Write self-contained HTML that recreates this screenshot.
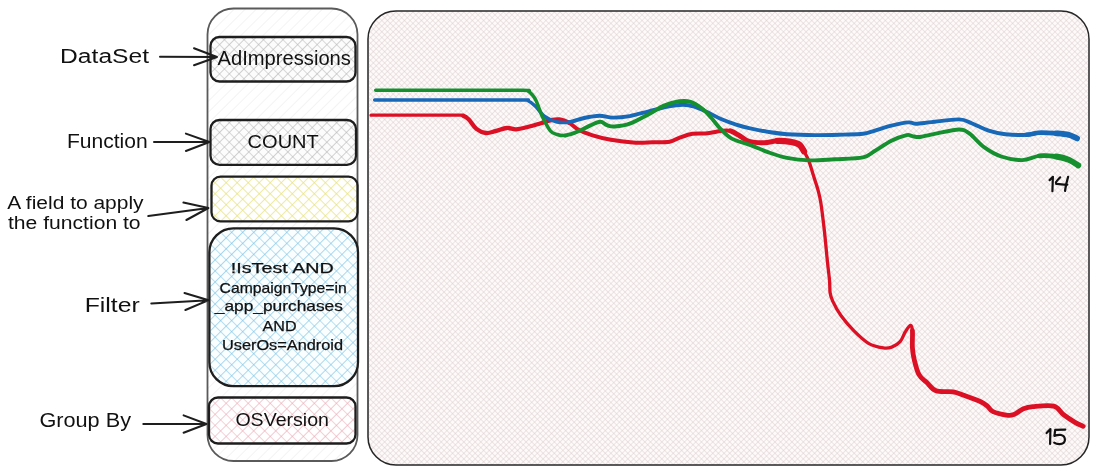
<!DOCTYPE html>
<html><head><meta charset="utf-8"><style>
html,body{margin:0;padding:0;background:#fff;width:1098px;height:474px;overflow:hidden}
svg{display:block;will-change:transform}
text{font-family:"Liberation Sans",sans-serif;fill:#111}
</style></head><body>
<svg width="1098" height="474" viewBox="0 0 1098 474">
<defs>
<pattern id="hOuter" width="7.8" height="7.8" patternUnits="userSpaceOnUse" patternTransform="rotate(45)">
<rect width="7.8" height="7.8" fill="#fff"/><line x1="0" y1="0" x2="0" y2="7.8" stroke="#ebebeb" stroke-width="1.1"/></pattern>
<pattern id="hGray" width="6.9" height="6.9" patternUnits="userSpaceOnUse" patternTransform="rotate(45)">
<rect width="6.9" height="6.9" fill="#fcfcfc"/><path d="M0,0 V6.9 M0,0 H6.9" stroke="#b4b4b4" stroke-width="1.2"/></pattern>
<pattern id="hYellow" width="7.8" height="7.8" patternUnits="userSpaceOnUse" patternTransform="rotate(45)">
<rect width="7.8" height="7.8" fill="#fff"/><path d="M0,0 V7.8 M0,0 H7.8" stroke="#e6e27c" stroke-width="1.3"/></pattern>
<pattern id="hBlue" width="7.8" height="7.8" patternUnits="userSpaceOnUse" patternTransform="rotate(45)">
<rect width="7.8" height="7.8" fill="#fbfeff"/><path d="M0,0 V7.8 M0,0 H7.8" stroke="#74c0e4" stroke-width="1.2"/></pattern>
<pattern id="hPink" width="7.8" height="7.8" patternUnits="userSpaceOnUse" patternTransform="rotate(45)">
<rect width="7.8" height="7.8" fill="#fff"/><path d="M0,0 V7.8 M0,0 H7.8" stroke="#eaa6b2" stroke-width="1.2"/></pattern>
<pattern id="hChart" width="4" height="4" patternUnits="userSpaceOnUse" patternTransform="rotate(45)">
<rect width="4" height="4" fill="#fffafa"/><path d="M0,0 V4 M0,0 H4" stroke="#d6cbcb" stroke-width="0.9"/></pattern>
</defs>

<!-- chart -->
<rect x="368" y="11" width="721" height="454" rx="28" fill="url(#hChart)" stroke="#262626" stroke-width="1.5"/>

<!-- outer container -->
<rect x="207.5" y="8.5" width="150" height="452.5" rx="26" fill="url(#hOuter)" stroke="#5a5a5a" stroke-width="1.8"/>

<!-- inner boxes -->
<g stroke="#1e1e1e" stroke-width="2.3">
<rect x="210.5" y="37" width="145" height="44.5" rx="9" fill="url(#hGray)"/>
<rect x="210.5" y="120" width="145.5" height="44.8" rx="9" fill="url(#hGray)"/>
<rect x="211.5" y="176.6" width="146" height="44.8" rx="9" fill="url(#hYellow)"/>
<rect x="209.4" y="228.3" width="148.6" height="157.9" rx="24" fill="url(#hBlue)"/>
<rect x="209" y="397.5" width="146.5" height="46" rx="9" fill="url(#hPink)"/>
</g>

<!-- arrows -->
<g stroke="#1e1e1e" stroke-width="2" fill="none" stroke-linecap="round" stroke-linejoin="round">
<path d="M160,56.7 L217,57 M194,48.2 L217,57 L194,65.2" /><path d="M154,142 L209.4,142 M185.9,133.6 L209.4,142 L185.9,151" /><path d="M148.3,216 L208.4,208 M183.4,202.6 L208.4,208 L186.4,220" /><path d="M151.3,303.5 L208.7,300.2 M184.5,293 L208.7,300.2 L185.4,310" /><path d="M143.3,424 L206.5,424 M183.6,415.4 L206.5,424 L183.6,432.7" />
</g>

<!-- labels -->
<text x="60.1" y="62.5" font-size="20" textLength="88.9" lengthAdjust="spacingAndGlyphs" text-anchor="start">DataSet</text>
<text x="66.9" y="147.5" font-size="20" textLength="80.8" lengthAdjust="spacingAndGlyphs" text-anchor="start">Function</text>
<text x="7.2" y="209.2" font-size="17.5" textLength="136.4" lengthAdjust="spacingAndGlyphs" text-anchor="start">A field to apply</text>
<text x="8" y="229" font-size="17.5" textLength="132.6" lengthAdjust="spacingAndGlyphs" text-anchor="start">the function to</text>
<text x="84.7" y="312" font-size="20" textLength="55.1" lengthAdjust="spacingAndGlyphs" text-anchor="start">Filter</text>
<text x="39.4" y="427" font-size="20" textLength="91.6" lengthAdjust="spacingAndGlyphs" text-anchor="start">Group By</text>

<!-- box texts -->
<text x="217.5" y="64.6" font-size="20" textLength="133.4" lengthAdjust="spacingAndGlyphs" text-anchor="start">AdImpressions</text>
<text x="247.6" y="147.8" font-size="18" textLength="71.2" lengthAdjust="spacingAndGlyphs" text-anchor="start">COUNT</text>
<text x="230.8" y="272.9" font-size="14.5" textLength="103" lengthAdjust="spacingAndGlyphs" stroke="#111" stroke-width="0.25" text-anchor="start">!IsTest AND</text>
<text x="219.6" y="292.8" font-size="14.5" textLength="127.1" lengthAdjust="spacingAndGlyphs" stroke="#111" stroke-width="0.25" text-anchor="start">CampaignType=in</text>
<text x="214.8" y="310.6" font-size="14.5" textLength="128.1" lengthAdjust="spacingAndGlyphs" stroke="#111" stroke-width="0.25" text-anchor="start">_app_purchases</text>
<text x="262.6" y="330.5" font-size="14.5" textLength="34.1" lengthAdjust="spacingAndGlyphs" stroke="#111" stroke-width="0.25" text-anchor="start">AND</text>
<text x="222" y="349.5" font-size="14.5" textLength="121" lengthAdjust="spacingAndGlyphs" stroke="#111" stroke-width="0.25" text-anchor="start">UserOs=Android</text>
<text x="235.4" y="425.8" font-size="18.5" textLength="93.6" lengthAdjust="spacingAndGlyphs" text-anchor="start">OSVersion</text>

<!-- chart lines -->
<g fill="none" stroke-linecap="round" stroke-linejoin="round">
<path d="M371.0,115.2 C379.2,115.2 405.7,115.2 420.0,115.2 C434.3,115.2 449.8,115.1 457.0,115.2 C464.2,115.3 461.0,114.9 463.0,115.6" stroke="#dc1024" stroke-width="3.2"/>
<path d="M463.0,115.6 C465.0,116.3 466.6,117.2 468.8,119.4 C471.0,121.6 473.5,126.6 476.4,128.9 C479.2,131.2 482.7,132.6 485.9,133.0 C489.1,133.4 491.9,132.0 495.4,131.2 C498.9,130.4 503.3,128.3 506.8,128.0 C510.3,127.7 512.7,129.5 516.2,129.3 C519.7,129.1 523.5,128.0 527.6,127.0 C531.7,126.0 537.1,124.3 540.9,123.2 C544.7,122.1 547.3,120.9 550.4,120.3 C553.5,119.7 556.4,119.1 559.5,119.5 C562.6,119.9 565.8,121.0 569.0,122.7" stroke="#dc1024" stroke-width="4.3"/>
<path d="M569.0,122.7 C572.2,124.4 574.7,127.7 578.5,129.8 C582.3,131.9 586.4,133.4 591.8,135.1 C597.2,136.8 603.5,138.5 610.8,139.8 C618.1,141.1 628.5,142.3 635.5,142.7 C642.5,143.1 646.9,142.5 652.6,142.3 C658.3,142.1 665.3,142.4 669.7,141.7 C674.1,141.0 675.4,139.2 679.2,137.9 C683.0,136.6 687.7,134.6 692.4,133.8 C697.1,133.0 702.8,133.7 707.6,133.2 C712.4,132.7 717.2,131.3 721.0,130.9 C724.8,130.5 727.2,130.1 730.4,130.9" stroke="#dc1024" stroke-width="4"/>
<path d="M730.4,130.9 C733.6,131.8 736.9,134.2 740.0,136.0 C743.1,137.8 745.0,140.3 749.0,141.4 C753.0,142.5 759.5,142.8 764.2,142.7 C769.0,142.6 773.1,141.0 777.5,140.8" stroke="#dc1024" stroke-width="5"/>
<path d="M777.5,140.8 C781.9,140.7 787.2,141.2 790.8,141.8 C794.4,142.4 797.1,143.0 799.3,144.6 C801.5,146.2 802.4,148.6 804.0,151.3" stroke="#dc1024" stroke-width="6.3"/>
<path d="M804.0,151.3 C805.6,154.0 807.2,156.7 808.8,160.8 C810.4,164.9 812.1,171.1 813.6,176.0 C815.1,180.9 816.8,185.5 818.0,190.0 C819.2,194.5 819.8,196.4 820.9,203.2 C822.0,210.0 823.3,221.3 824.4,231.0 C825.5,240.7 826.5,253.0 827.4,261.2 C828.2,269.4 829.0,274.8 829.5,280.0 C830.0,285.2 829.6,289.2 830.1,292.7 C830.6,296.2 830.9,297.2 832.7,301.1 C834.5,305.0 837.6,310.9 841.1,315.8 C844.6,320.7 849.1,326.0 853.7,330.6 C858.3,335.2 863.6,340.4 868.5,343.3 C873.4,346.2 879.4,347.3 883.3,347.9 C887.2,348.5 888.9,348.2 891.7,347.1 C894.5,346.1 897.8,344.2 900.1,341.6 C902.4,339.0 903.7,334.4 905.4,331.7 C907.1,329.0 909.1,325.5 910.3,325.3 C911.5,325.1 912.0,326.9 912.4,330.6" stroke="#dc1024" stroke-width="3.3"/>
<path d="M912.4,330.6 C912.8,334.3 912.1,342.7 912.4,347.5 C912.7,352.3 913.1,355.0 914.2,359.5 C915.3,364.0 916.9,370.9 919.0,374.7 C921.1,378.5 923.8,379.6 926.6,382.3 C929.5,385.0 931.7,389.2 936.1,390.8 C940.5,392.4 948.5,391.0 953.2,391.8 C957.9,392.6 960.1,394.0 964.5,395.6 C968.9,397.2 975.9,399.6 979.7,401.3 C983.5,403.0 985.1,404.3 987.3,406.0 C989.5,407.7 989.8,410.2 993.0,411.7 C996.2,413.2 1002.8,414.6 1006.3,415.1 C1009.8,415.6 1011.0,415.6 1013.9,414.5 C1016.8,413.4 1020.2,410.1 1023.4,408.8 C1026.6,407.5 1027.8,407.0 1032.9,406.6 C1038.0,406.2 1048.7,404.9 1053.8,406.2 C1058.9,407.5 1059.8,411.9 1063.3,414.5 C1066.8,417.1 1071.3,420.1 1074.6,422.1 C1077.9,424.1 1081.8,425.6 1083.2,426.3" stroke="#dc1024" stroke-width="4.8"/>
<path d="M374.7,100.0 C387.2,100.0 425.6,100.0 450.0,100.0 C474.4,100.0 508.1,99.9 521.0,100.0 C533.9,100.1 525.2,99.5 527.6,100.5 C530.0,101.5 532.4,103.3 535.2,106.0 C538.1,108.7 541.2,113.9 544.7,116.5 C548.2,119.1 552.1,120.8 556.1,121.7 C560.1,122.7 564.3,122.8 569.0,122.2" stroke="#1868b8" stroke-width="3.5"/>
<path d="M569.0,122.2 C573.7,121.6 579.1,119.1 584.2,118.0 C589.3,116.9 594.6,115.8 599.4,115.7 C604.1,115.6 607.6,117.5 612.7,117.6 C617.8,117.7 623.8,117.1 629.8,116.1 C635.8,115.0 642.5,112.9 648.8,111.3 C655.1,109.7 662.1,107.7 667.8,106.6 C673.5,105.5 678.6,104.7 683.0,104.7 C687.4,104.7 690.2,105.3 694.3,106.6 C698.4,107.9 703.1,110.2 707.6,112.3 C712.1,114.4 716.2,117.0 721.0,119.0 C725.8,121.0 731.4,123.1 736.1,124.6 C740.8,126.1 743.7,126.9 749.0,128.1 C754.3,129.3 761.7,130.9 768.0,131.9 C774.3,132.9 779.1,133.7 787.0,134.2 C794.9,134.7 806.0,135.0 815.5,135.1 C825.0,135.2 836.1,134.8 844.0,134.6 C851.9,134.4 858.0,134.4 863.0,133.8 C868.0,133.2 869.6,132.2 874.3,130.8 C879.0,129.4 885.7,127.0 891.4,125.6 C897.1,124.2 904.4,122.7 908.5,122.4 C912.6,122.1 912.2,123.8 916.1,123.7 C920.0,123.7 924.5,122.8 931.6,122.1 C938.8,121.4 952.3,119.2 959.0,119.4 C965.7,119.6 966.8,121.3 971.7,123.2 C976.6,125.1 983.0,128.8 988.6,130.6 C994.2,132.4 999.1,133.5 1005.4,134.2 C1011.7,134.9 1020.9,135.1 1026.5,134.8 C1032.1,134.6 1034.3,132.9 1039.2,132.7" stroke="#1868b8" stroke-width="3.9"/>
<path d="M1026.5,134.8 C1032.1,134.6 1034.3,132.9 1039.2,132.7 C1044.1,132.4 1051.1,133.0 1056.0,133.3 C1060.9,133.7 1065.2,134.0 1068.7,134.8" stroke="#1868b8" stroke-width="4.6"/>
<path d="M1056.0,133.3 C1060.9,133.7 1065.2,134.0 1068.7,134.8 C1072.2,135.7 1075.7,137.8 1077.1,138.4" stroke="#1868b8" stroke-width="5.8"/>
<path d="M375.7,90.3 C388.1,90.3 425.6,90.3 450.0,90.3 C474.4,90.3 509.0,90.1 522.0,90.3 C535.0,90.5 526.3,90.5 528.0,91.2 C529.7,91.9 530.7,93.0 532.0,94.5 C533.3,96.0 534.2,96.7 536.0,100.5 C537.8,104.3 540.4,112.5 542.8,117.5 C545.2,122.5 548.0,128.0 550.4,130.8 C552.8,133.6 554.5,133.7 557.0,134.5 C559.5,135.3 561.6,136.0 565.2,135.5" stroke="#16902f" stroke-width="3.5"/>
<path d="M565.2,135.5 C568.8,135.0 574.4,133.0 578.5,131.3 C582.6,129.7 586.3,127.2 589.9,125.6 C593.5,124.0 597.4,121.9 600.3,121.8 C603.1,121.7 604.6,124.4 607.0,125.2 C609.4,126.0 610.8,126.8 614.6,126.5 C618.4,126.2 624.1,125.8 629.8,123.7 C635.5,121.7 643.1,117.2 648.8,114.2 C654.5,111.2 658.9,107.8 664.0,105.6 C669.1,103.4 674.8,101.9 679.2,101.3 C683.6,100.7 686.8,100.6 690.6,101.8 C694.4,103.0 698.5,105.8 702.0,108.5 C705.5,111.2 708.2,114.5 711.4,118.0 C714.6,121.5 717.5,125.9 721.0,129.4 C724.5,132.9 727.6,136.4 732.3,138.9 C737.0,141.4 743.0,142.4 749.0,144.6 C755.0,146.8 761.7,150.0 768.0,152.2 C774.3,154.4 780.0,156.5 787.0,157.9 C794.0,159.3 801.9,160.2 809.8,160.4 C817.7,160.6 825.6,159.8 834.5,159.3 C843.4,158.8 856.4,158.7 863.0,157.4 C869.6,156.1 869.6,154.1 874.3,151.3 C879.0,148.5 886.0,143.5 891.4,140.8 C896.8,138.1 903.1,135.9 906.6,135.1 C910.1,134.3 910.1,135.8 912.3,136.1 C914.5,136.4 916.1,137.4 920.0,137.0 C923.9,136.6 929.3,134.9 935.8,133.7 C942.3,132.4 953.4,129.5 959.0,129.5 C964.6,129.5 965.4,130.7 969.6,133.7 C973.8,136.7 979.1,143.6 984.4,147.4 C989.7,151.2 994.9,154.4 1001.2,156.5 C1007.5,158.6 1016.0,160.2 1022.3,160.1 C1028.6,160.0 1033.6,156.5 1039.2,155.9 C1044.8,155.3 1051.1,155.9 1056.0,156.5" stroke="#16902f" stroke-width="3.9"/>
<path d="M1039.2,155.9 C1044.8,155.3 1051.1,155.9 1056.0,156.5 C1060.9,157.1 1065.0,158.2 1068.7,159.7" stroke="#16902f" stroke-width="4.8"/>
<path d="M1056.0,156.5 C1060.9,157.1 1065.0,158.2 1068.7,159.7 C1072.4,161.2 1076.6,164.4 1078.2,165.4" stroke="#16902f" stroke-width="6"/>
</g>

<g fill="none" stroke="#111" stroke-width="2.2" stroke-linecap="round" stroke-linejoin="round">
<path d="M1049.6,180.1 L1052.9,176.8 L1052.4,191.2"/>
<path d="M1060.2,177.3 C1058.5,179 1057,180.5 1055.9,182.3 L1056.2,183.9 C1060,184.2 1064,184.6 1067.3,184.7 M1068.1,176.8 C1066.8,181 1065.6,186 1065,191"/>
<path d="M1046.6,433.1 L1050.4,429.1 L1050.1,444"/>
<path d="M1065.3,429.6 L1055.2,429.8 L1054.4,435.9 C1056.5,435 1059,434.6 1061,435 C1063.5,435.6 1065,437.5 1064.9,440 C1064.8,442.5 1062.5,444 1059.5,444.2 C1057.5,444.3 1055.5,443.6 1054.2,442.7"/>
</g>

</svg>
</body></html>
